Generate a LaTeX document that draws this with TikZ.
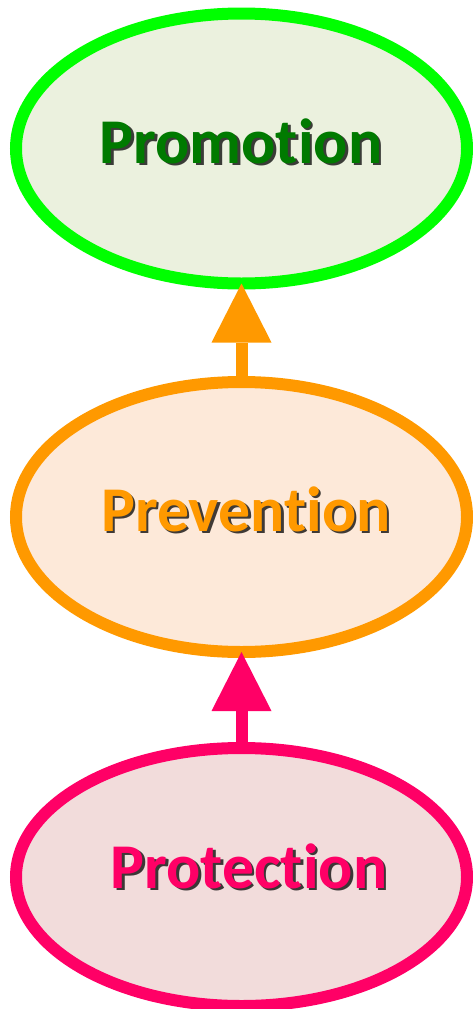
\documentclass[tikz,border=0pt]{standalone}
\usepackage{fontspec}
\setmainfont{Carlito}[Ligatures=NoCommon]
\usetikzlibrary{shapes.geometric,arrows.meta}
\definecolor{promoline}{HTML}{00FF00}
\definecolor{promofill}{HTML}{EBF1DE}
\definecolor{promotext}{HTML}{007A00}
\definecolor{prevline}{HTML}{FF9900}
\definecolor{prevfill}{HTML}{FDE9D9}
\definecolor{protline}{HTML}{FF0066}
\definecolor{protfill}{HTML}{F2DCDB}
\tikzset{
  level/.style={ellipse, line width=12bp, outer sep=0pt, inner sep=0pt,
    minimum width=451bp, minimum height=270bp},
  word/.style={font=\fontsize{64}{64}\selectfont\bfseries, anchor=base, inner sep=0pt},
  wordshadow/.style={word, text=black, opacity=0.75},
  uparrow/.style={line width=12bp, -{Triangle[length=59bp,width=60bp,line width=0pt]}}
}
\begin{document}
\begin{tikzpicture}[x=1bp,y=-1bp]
\useasboundingbox (0,0) rectangle (473,1009);
% the three levels
\node[level, draw=promoline, fill=promofill] (promo) at (241.5,148.5) {};
\node[level, draw=prevline, fill=prevfill] (prev) at (241.5,517) {};
\node[level, draw=protline, fill=protfill, minimum height=258bp] (prot) at (241.5,877) {};
% labels with a drop shadow
\node[wordshadow] (promoS) at (243.5,165.5) {Promotion};
\node[word, text=promotext] (promoT) at (241,163) {Promotion};
\node[wordshadow] (prevS) at (248.5,533.5) {Prevention};
\node[word, text=prevline] (prevT) at (246,531) {Prevention};
\node[wordshadow] (protS) at (251.5,890.5) {Protection};
\node[word, text=protline] (protT) at (249,888) {Protection};
% arrows between the levels
\draw[uparrow, prevline] (prev.north) -- (promo.south);
\draw[uparrow, protline] (prot.north) -- (prev.south);
\end{tikzpicture}
\end{document}
